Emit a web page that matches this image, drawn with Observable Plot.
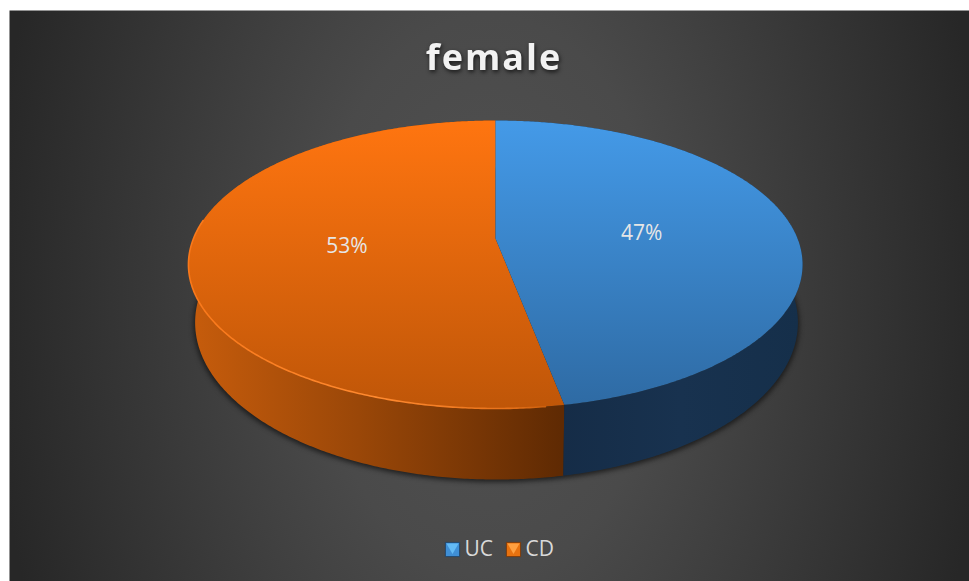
<!DOCTYPE html>
<html>
<head>
<meta charset="utf-8">
<title>female</title>
<script src="https://cdn.jsdelivr.net/npm/d3@7"></script>
<script src="https://cdn.jsdelivr.net/npm/@observablehq/plot@0.6"></script>
<style>
html,body{margin:0;padding:0;background:#fff;overflow:hidden}
svg{display:block}
.pie-shadow{filter:blur(2.5px)}
.rim-glow{filter:blur(.5px)}
.title-text{filter:drop-shadow(1px 2px 2px rgba(0,0,0,.7))}
.title-text text{letter-spacing:2px}
</style>
</head>
<body>
<div id="chart"></div>
<script>
const chartTitle = "female";
const categories = ["UC", "CD"];
const shares = [47, 53];
const legendX = [452, 513];

const W = 969, H = 581;
const topDisc = {cx: 495, cy: 238, a: 139.3, b: 0.1806, c: 302};
const lowDisc = {cx: 496, cy: 295.3, a: 152.5, b: 0.17, c: 297};

function project(d, deg, r = 1) {
  const t = deg * Math.PI / 180;
  const u = r * Math.sin(t), v = -r * Math.cos(t);
  const k = 1 - d.b * v;
  return {x: d.cx + d.c * u / k, y: d.cy + d.a * v / k};
}

const total = d3.sum(shares);
let acc = 0;
const slices = categories.map((name, i) => {
  const start = acc / total * 360;
  acc += shares[i];
  const end = acc / total * 360;
  return {name, share: shares[i], start, end, mid: (start + end) / 2};
});
const arcDegrees = (s) => {
  const n = Math.ceil(s.end - s.start) * 2;
  return d3.range(n + 1).map((j) => s.start + (s.end - s.start) * j / n);
};
const wedge = (s) => [{x: topDisc.cx, y: topDisc.cy}, ...arcDegrees(s).map((a) => project(topDisc, a))];
const wall = (s) => {
  const a = arcDegrees(s);
  return [...a.map((p) => project(topDisc, p)), ...a.slice().reverse().map((p) => project(lowDisc, p))];
};
const outline = (d, grow = 0, dy = 0) => d3.range(0, 361, 2).map((a) => {
  const p = project(d, a);
  return {x: p.x + Math.sin(a * Math.PI / 180) * grow, y: p.y + dy};
});
const rimFront = (s, lo, hi) => arcDegrees(s).filter((a) => a >= lo && a <= hi).map((p) => project(topDisc, p));

const [uc, cd] = slices;
const xy = {x: "x", y: "y"};
const labelFont = "'Open Sans', sans-serif";

const chart = Plot.plot({
  width: W,
  height: H,
  margin: 0,
  x: {domain: [0, W], range: [0, W], axis: null},
  y: {domain: [0, H], range: [0, H], axis: null},
  style: {background: "#fff"},
  marks: [
    Plot.frame({fill: "url(#bg)", stroke: "none", insetLeft: 9, insetTop: 10}),
    Plot.line(outline(lowDisc, 1.5, 2.5), {...xy, fill: "#141414", fillOpacity: 0.8, stroke: "none", className: "pie-shadow"}),
    Plot.line(wall(cd), {...xy, fill: "url(#wallCD)", stroke: "none"}),
    Plot.line(wall(uc), {...xy, fill: "url(#wallUC)", stroke: "none"}),
    Plot.line(wedge(cd), {...xy, fill: "url(#topCD)", stroke: "none"}),
    Plot.line(wedge(uc), {...xy, fill: "url(#topUC)", stroke: "none"}),
    Plot.line(rimFront(cd, 172, 278), {...xy, stroke: "url(#rimCD)", strokeWidth: 1.6, fill: "none", className: "rim-glow"}),
    Plot.text(slices, {
      x: (s) => project(topDisc, s.mid, 0.49).x,
      y: (s) => project(topDisc, s.mid, 0.49).y,
      dy: 1,
      text: (s) => `${s.share}%`,
      fill: "#e6e6e6",
      fontSize: 21,
      fontFamily: labelFont
    }),
    Plot.text([chartTitle], {
      frameAnchor: "top", dx: 9, dy: 44,
      text: (d) => d,
      fill: "#f2f2f2",
      fontSize: 36,
      fontWeight: 700,
      fontFamily: labelFont,
      lineAnchor: "top",
      className: "title-text"
    }),
    Plot.dot([categories[0]], {x: () => legendX[0], y: () => 549, symbol: "square", r: 8, fill: "url(#swUC)", stroke: "#1c3f63", strokeWidth: 0.8}),
    Plot.dot([categories[1]], {x: () => legendX[1], y: () => 549, symbol: "square", r: 8, fill: "url(#swCD)", stroke: "#733406", strokeWidth: 0.8}),
    Plot.dot([categories[0]], {x: () => legendX[0], y: () => 546.5, symbol: "triangle", rotate: 180, r: 4.5, fill: "#63baf5", stroke: "none"}),
    Plot.dot([categories[1]], {x: () => legendX[1], y: () => 546.5, symbol: "triangle", rotate: 180, r: 4.5, fill: "#ffa040", stroke: "none"}),
    Plot.text(categories, {
      x: (d, i) => legendX[i] + 12,
      y: () => 549,
      text: (d) => d,
      textAnchor: "start",
      fill: "#d9d9d9",
      fontSize: 21,
      fontFamily: labelFont
    })
  ]
});

const defs = d3.create("svg:defs");
const radial = defs.append("radialGradient").attr("id", "bg").attr("gradientUnits", "userSpaceOnUse")
  .attr("cx", 0).attr("cy", 0).attr("r", 1)
  .attr("gradientTransform", "translate(489 295) scale(500 800)");
[[0, "#525252"], [0.35, "#4a4a4a"], [0.7, "#373737"], [1, "#272727"]].forEach(([o, c]) =>
  radial.append("stop").attr("offset", o).attr("stop-color", c));
const linear = (id, x1, y1, x2, y2, stops) => {
  const g = defs.append("linearGradient").attr("id", id).attr("gradientUnits", "userSpaceOnUse")
    .attr("x1", x1).attr("y1", y1).attr("x2", x2).attr("y2", y2);
  stops.forEach(([o, c]) => g.append("stop").attr("offset", o).attr("stop-color", c));
};
linear("topUC", 0, 120, 0, 408, [[0, "#449ae8"], [1, "#2e6aa3"]]);
linear("topCD", 0, 120, 0, 408, [[0, "#ff7510"], [1, "#bf5608"]]);
linear("wallCD", 192, 0, 561, 0, [[0, "#c65c0c"], [0.45, "#9a4708"], [1, "#5f2a03"]]);
linear("wallUC", 561, 0, 800, 0, [[0, "#152c47"], [0.5, "#18324f"], [1, "#152f4a"]]);
linear("swUC", 0, 541, 0, 557, [[0, "#3f8fd6"], [1, "#265a8e"]]);
linear("swCD", 0, 541, 0, 557, [[0, "#e8720f"], [1, "#a04c08"]]);
linear("rimCD", 188, 0, 563, 0, [[0, "#f9781a"], [0.5, "#ff8a30"], [0.85, "#e8721a"], [1, "#c05808"]]);
chart.insertBefore(defs.node(), chart.firstChild);

document.getElementById("chart").append(chart);
</script>
</body>
</html>
